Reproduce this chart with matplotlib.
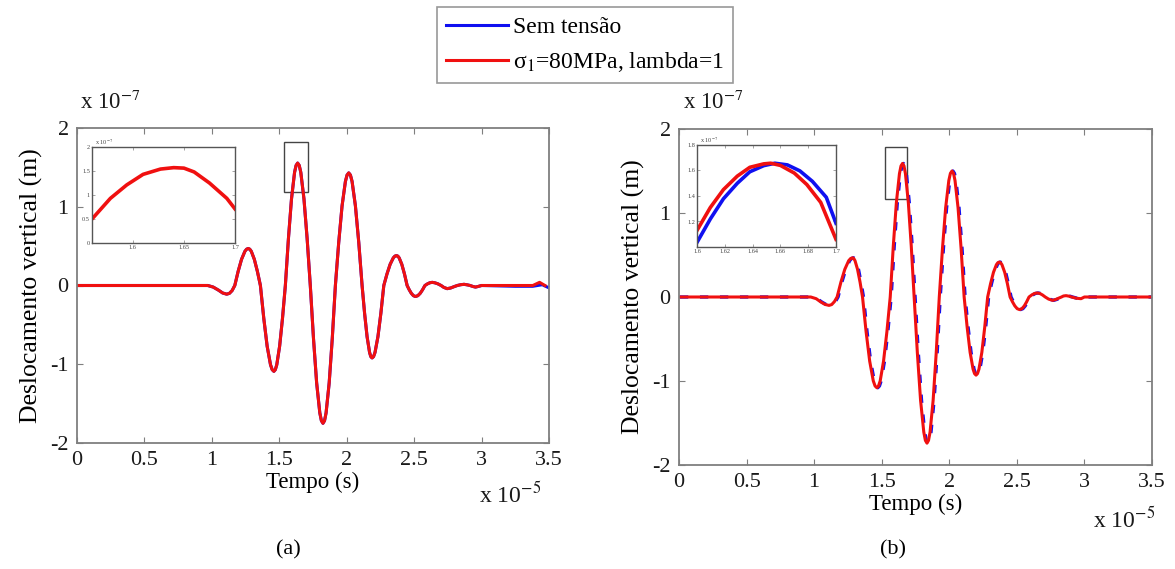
import matplotlib
matplotlib.use("Agg")
import matplotlib.pyplot as plt
from matplotlib.lines import Line2D
from matplotlib.patches import Rectangle

plt.rcParams['font.family'] = ['Liberation Serif', 'DejaVu Serif']
plt.rcParams['mathtext.fontset'] = 'stix'
plt.rcParams['axes.unicode_minus'] = False

# ---------------- data (time in 1e-5 s, displacement in 1e-7 m) ----------------
legend_labels = ["Sem tensão", "σ$_1$=80MPa, lambda=1"]
x_ticks = [0, 0.5, 1, 1.5, 2, 2.5, 3, 3.5]
x_tick_labels = ["0", "0.5", "1", "1.5", "2", "2.5", "3", "3.5"]
y_ticks = [-2, -1, 0, 1, 2]

# panel (a): shared core of both series
core_a_t = [0.0, 0.97, 1.01, 1.05, 1.08, 1.11, 1.13, 1.15, 1.17,
            1.195, 1.22, 1.245, 1.2575, 1.27, 1.281, 1.2925, 1.315, 1.3375, 1.36,
            1.385, 1.41, 1.435, 1.4475, 1.46, 1.4706, 1.4813, 1.5025, 1.5238, 1.545,
            1.5678, 1.5905, 1.6133, 1.6246, 1.636, 1.6478, 1.6595, 1.683, 1.7065, 1.73,
            1.7535, 1.777, 1.8005, 1.8123, 1.824, 1.8355, 1.847, 1.87, 1.893, 1.916,
            1.9408, 1.9655, 1.9903, 2.0026, 2.015, 2.0274, 2.0398, 2.0645, 2.0893, 2.114,
            2.1325, 2.151, 2.1695, 2.1788, 2.188, 2.1989, 2.2098, 2.2315, 2.2533, 2.275,
            2.2985, 2.322, 2.3455, 2.3573, 2.369, 2.3789, 2.3888, 2.4085, 2.4283, 2.448,
            2.4635, 2.479, 2.4945, 2.51, 2.5275, 2.545, 2.5625, 2.58,
            2.60, 2.617, 2.634, 2.652, 2.675, 2.70,
            2.72, 2.745, 2.77, 2.80, 2.82,
            2.845, 2.87, 2.895, 2.915, 2.935, 2.955, 2.975, 3.0]
core_a_y = [0.0, 0.0, -0.02, -0.06, -0.095, -0.11, -0.10, -0.065, 0.0,
            0.18, 0.332, 0.434, 0.461, 0.47, 0.461, 0.434, 0.332, 0.18, 0.0,
            -0.417, -0.771, -1.007, -1.069, -1.09, -1.069, -1.007, -0.771, -0.417, 0.0,
            0.596, 1.099, 1.437, 1.525, 1.555, 1.525, 1.437, 1.099, 0.596, 0.0,
            -0.670, -1.237, -1.617, -1.717, -1.75, -1.717, -1.617, -1.237, -0.670, 0.0,
            0.548, 1.011, 1.321, 1.403, 1.43, 1.403, 1.321, 1.011, 0.548, 0.0,
            -0.352, -0.650, -0.850, -0.903, -0.92, -0.903, -0.850, -0.650, -0.352, 0.0,
            0.146, 0.269, 0.351, 0.373, 0.38, 0.373, 0.351, 0.269, 0.146, 0.0,
            -0.054, -0.099, -0.129, -0.14, -0.129, -0.099, -0.054, 0.0,
            0.022, 0.035, 0.04, 0.035, 0.022, 0.0,
            -0.024, -0.04, -0.032, -0.012, 0.0,
            0.01, 0.015, 0.008, 0.0, -0.012, -0.02, -0.012, 0.0]
red_a_tail_t = [3.38, 3.43, 3.47]
red_a_tail_y = [0.0, 0.04, 0.0]
blue_a_tail_t = [3.25, 3.38, 3.45, 3.5]
blue_a_tail_y = [-0.01, -0.01, 0.01, -0.03]

# inset (a)
ins_a_t = [1.56, 1.578, 1.594, 1.610, 1.627, 1.64, 1.65, 1.66, 1.675, 1.692, 1.70]
ins_a_y = [0.50, 0.93, 1.21, 1.43, 1.54, 1.57, 1.56, 1.48, 1.25, 0.93, 0.71]

# panel (b)
red_b_t = [0.0, 0.975, 1.015, 1.05, 1.08, 1.11, 1.13, 1.15, 1.17,
           1.1985, 1.227, 1.2555, 1.2698, 1.284, 1.2933, 1.3025, 1.321, 1.3395, 1.358,
           1.3845, 1.411, 1.4375, 1.4508, 1.464, 1.4764, 1.4888, 1.5135, 1.5383, 1.563,
           1.5858, 1.6085, 1.6313, 1.6426, 1.654, 1.6648, 1.6755, 1.697, 1.7185, 1.74,
           1.7638, 1.7875, 1.8113, 1.8231, 1.835, 1.8464, 1.8578, 1.8805, 1.9033, 1.926,
           1.9495, 1.973, 1.9965, 2.0083, 2.02, 2.0313, 2.0425, 2.065, 2.0875, 2.11,
           2.132, 2.154, 2.176, 2.187, 2.198, 2.2088, 2.2195, 2.241, 2.2625, 2.284,
           2.3055, 2.327, 2.3485, 2.3593, 2.37, 2.38, 2.39, 2.41, 2.43, 2.45,
           2.4675, 2.485, 2.5025, 2.52, 2.5375, 2.555, 2.5725, 2.59,
           2.61, 2.63, 2.65, 2.67, 2.69, 2.71,
           2.735, 2.765, 2.79, 2.815, 2.83,
           2.845, 2.864, 2.885, 2.905, 2.94, 2.975, 3.0, 3.5]
red_b_y = [0.0, 0.0, -0.02, -0.06, -0.088, -0.10, -0.09, -0.055, 0.0,
           0.179, 0.330, 0.432, 0.458, 0.467, 0.458, 0.432, 0.330, 0.179, 0.0,
           -0.414, -0.764, -0.998, -1.059, -1.08, -1.059, -0.998, -0.764, -0.414, 0.0,
           0.609, 1.124, 1.469, 1.560, 1.59, 1.560, 1.469, 1.124, 0.609, 0.0,
           -0.666, -1.230, -1.608, -1.707, -1.74, -1.707, -1.608, -1.230, -0.666, 0.0,
           0.575, 1.061, 1.386, 1.472, 1.50, 1.472, 1.386, 1.061, 0.575, 0.0,
           -0.356, -0.658, -0.859, -0.912, -0.93, -0.912, -0.859, -0.658, -0.356, 0.0,
           0.159, 0.294, 0.384, 0.408, 0.416, 0.408, 0.384, 0.294, 0.159, 0.0,
           -0.057, -0.106, -0.139, -0.15, -0.139, -0.106, -0.057, 0.0,
           0.024, 0.042, 0.048, 0.042, 0.024, 0.0,
           -0.025, -0.04, -0.028, -0.01, 0.0,
           0.012, 0.016, 0.01, 0.0, -0.015, -0.02, 0.0, 0.0]
blue_b_lag = 0.007

# inset (b)
ins_b_red_t = [1.60, 1.6096, 1.619, 1.629, 1.638, 1.648, 1.653, 1.660, 1.670, 1.679, 1.689, 1.70]
ins_b_red_y = [1.13, 1.31, 1.45, 1.556, 1.625, 1.652, 1.657, 1.64, 1.58, 1.49, 1.35, 1.06]
ins_b_blue_t = [1.60, 1.6096, 1.619, 1.629, 1.638, 1.648, 1.656, 1.665, 1.674, 1.683, 1.693, 1.70]
ins_b_blue_y = [1.036, 1.22, 1.378, 1.50, 1.59, 1.638, 1.657, 1.644, 1.597, 1.515, 1.39, 1.186]

RED = '#f01010'
BLUE = '#1010f0'
FRAME = '#7f7f7f'
TXT = '#1a1a1a'

W, H = 1175, 569
fig = plt.figure(figsize=(W / 100, H / 100), dpi=100)


def px_axes(x0, y0, x1, y1):
    return fig.add_axes([x0 / W, 1 - y1 / H, (x1 - x0) / W, (y1 - y0) / H])


def style_main(ax):
    ax.set_xlim(0, 3.5)
    ax.set_ylim(-2, 2)
    ax.set_xticks(x_ticks)
    ax.set_xticklabels(x_tick_labels)
    ax.set_yticks(y_ticks)
    ax.tick_params(direction='in', top=True, right=True, length=4, width=0.8,
                   color=FRAME, labelsize=16, labelcolor=TXT, pad=6)
    for s in ax.spines.values():
        s.set_color(FRAME)
        s.set_linewidth(1.3)
    ax.set_xlabel("Tempo (s)", fontsize=16.5, color='black', labelpad=1)
    ax.set_ylabel("Deslocamento vertical (m)", fontsize=18.5, color='black', labelpad=5)


def style_inset(ax):
    ax.tick_params(direction='in', top=True, right=True, length=2, width=0.5,
                   color=FRAME, labelsize=4.5, labelcolor='#444444', pad=1.5)
    for s in ax.spines.values():
        s.set_color('#555555')
        s.set_linewidth(1.0)


# ---------------- panel (a) ----------------
ax_a = px_axes(77, 128, 549, 443)
ax_a.plot(core_a_t + blue_a_tail_t, core_a_y + blue_a_tail_y, color=BLUE, lw=2.2)
ax_a.plot(core_a_t + red_a_tail_t, core_a_y + red_a_tail_y, color=RED, lw=2.2)
style_main(ax_a)
ax_a.add_patch(Rectangle((1.535, 1.19), 0.175, 0.63, fill=False, ec='#444444', lw=1.0))

ins_a = px_axes(92, 147, 235, 243)
ins_a.plot(ins_a_t, ins_a_y, color=RED, lw=2.6)
ins_a.set_xlim(1.56, 1.70)
ins_a.set_ylim(0, 2)
ins_a.set_xticks([1.6, 1.65, 1.7])
ins_a.set_xticklabels(["1.6", "1.65", "1.7"])
ins_a.set_yticks([0, 0.5, 1, 1.5, 2])
ins_a.set_yticklabels(["0", "0.5", "1", "1.5", "2"])
style_inset(ins_a)
ins_a.text(0.02, 1.0, r"x 10$^{-7}$", transform=ins_a.transAxes, fontsize=4.5,
           color='#444444', va='bottom', ha='left')

# ---------------- panel (b) ----------------
ax_b = px_axes(679, 129, 1152, 465)
ax_b.plot([t + blue_b_lag for t in red_b_t], red_b_y, color=BLUE, lw=2.4,
          dashes=(2.5, 3.5))
ax_b.plot(red_b_t, red_b_y, color=RED, lw=2.2)
style_main(ax_b)
ax_b.add_patch(Rectangle((1.526, 1.167), 0.163, 0.62, fill=False, ec='#444444', lw=1.0))

ins_b = px_axes(697, 145, 836, 247)
ins_b.plot(ins_b_blue_t, ins_b_blue_y, color=BLUE, lw=2.6)
ins_b.plot(ins_b_red_t, ins_b_red_y, color=RED, lw=2.6)
ins_b.set_xlim(1.6, 1.7)
ins_b.set_ylim(1.0, 1.8)
ins_b.set_xticks([1.6, 1.62, 1.64, 1.66, 1.68, 1.7])
ins_b.set_xticklabels(["1.6", "1.62", "1.64", "1.66", "1.68", "1.7"])
ins_b.set_yticks([1.2, 1.4, 1.6, 1.8])
ins_b.set_yticklabels(["1.2", "1.4", "1.6", "1.8"])
style_inset(ins_b)
ins_b.text(0.02, 1.0, r"x 10$^{-7}$", transform=ins_b.transAxes, fontsize=4.5,
           color='#444444', va='bottom', ha='left')

# ---------------- exponent labels & panel captions ----------------
fig.text(80 / W, 1 - 102 / H, r"x 10$^{-7}$", fontsize=16.5, color=TXT, ha='left', va='center')
fig.text(683 / W, 1 - 102 / H, r"x 10$^{-7}$", fontsize=16.5, color=TXT, ha='left', va='center')
fig.text(479 / W, 1 - 495 / H, r"x 10$^{-5}$", fontsize=17, color=TXT, ha='left', va='center')
fig.text(1093 / W, 1 - 520 / H, r"x 10$^{-5}$", fontsize=17, color=TXT, ha='left', va='center')
fig.text(288 / W, 1 - 550 / H, "(a)", fontsize=16, color='black', ha='center', va='center')
fig.text(893 / W, 1 - 550 / H, "(b)", fontsize=16, color='black', ha='center', va='center')

# ---------------- legend ----------------
handles = [Line2D([], [], color=BLUE, lw=2.2), Line2D([], [], color=RED, lw=2.2)]
leg = fig.legend(handles, legend_labels, loc='upper left',
                 bbox_to_anchor=(437 / W, 1 - 7 / H), fontsize=17, frameon=True,
                 fancybox=False, edgecolor=FRAME, handlelength=2.6, handletextpad=0.2,
                 borderpad=0.4, labelspacing=0.5, borderaxespad=0)
leg.get_frame().set_linewidth(1.2)

fig.savefig("out.png", dpi=100)
